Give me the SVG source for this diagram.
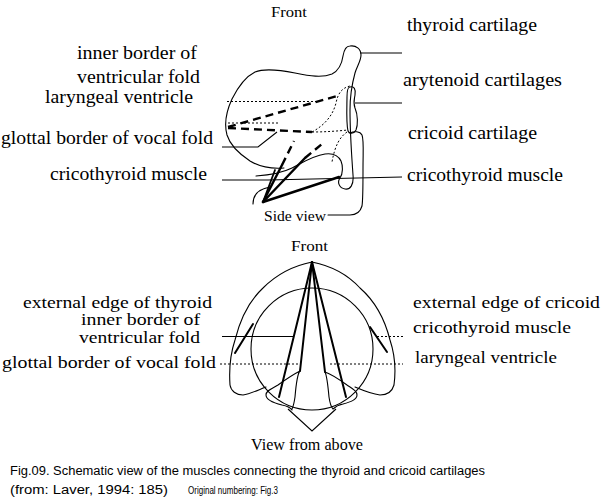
<svg xmlns="http://www.w3.org/2000/svg" width="605" height="500" viewBox="0 0 605 500">
<style>
.bg{fill:#fff}
.o{fill:none;stroke:#000;stroke-width:1.1;stroke-linecap:round;stroke-linejoin:round}
.dot{fill:none;stroke:#000;stroke-width:1;stroke-dasharray:2 2}
.thk{fill:none;stroke:#000;stroke-width:2.4;stroke-linecap:round}
.dsh{fill:none;stroke:#000;stroke-width:2.4;stroke-dasharray:8 5}
.ld{fill:none;stroke:#000;stroke-width:1.1}
.t{font-family:"Liberation Serif","Times New Roman",serif;fill:#000}
.c{font-family:"Liberation Sans",Arial,sans-serif;fill:#000}
</style>
<rect class="bg" x="0" y="0" width="605" height="500"/>

<g id="side-view">
  <path id="thyroid-side" class="o" d="M284,168 C270,169 258,166 250,161 C238,153 230,145 227,135 C224,124 226,112 232,99 C238,87 245,77 255,72 C265,68 280,70 295,73 C310,76 322,78 332,74 C340,70 342,63 343,56 C344,50 346,46 350,46 C356,45 361,49 361,55 C361,61 357,66 355,73 C352,84 350,95 350,110 C350,135 352,160 353,175 C354,185 350,190 345,189 C339,188 337,182 340,178 C343,174 343,166 341,161 C338,155 332,153 325,154 C312,156 302,163 292,168 C282,173 270,175 256,176"/>
  <path id="arytenoid-side" class="o" d="M350,87 C354,86 356,89 355,95 C354,101 353,103 355,108 C358,115 358,125 356,130 C354,134 349,134 348,131 C346,122 347,105 347,97 C347,90 348,87 350,87 Z"/>
  <path id="cricoid-side" class="o" d="M350,133 C354,131 360,131 362,135 C364,140 363,150 363,170 C363,190 363,200 362,206 C360,213 356,215 350,215 L328,215"/>
  <path id="hook" class="o" d="M253,204 C253,195 258,189 270,187"/>
  <g id="side-folds">
    <path class="dot" d="M227,101.5 L320,101.5"/>
    <path class="dot" d="M228,123 L280,123"/>
    <path class="dot" d="M312,132 C325,125 333,115 336,103 C338,93 342,88 350,86"/>
    <path class="dot" d="M312,132 C325,132 338,131 348,130"/>
    <path class="dot" d="M347,132 C340,137 335,145 332,162"/>
    <path class="dsh" d="M228,127 L337,96"/>
    <path class="dsh" d="M228,128 L312,132"/>
    <path class="dsh" d="M282,165 L294,141"/>
    <path class="dsh" d="M305,158 L322,144"/>
  </g>
  <g id="side-muscle">
    <path class="thk" d="M263,202 L282,165"/>
    <path class="thk" style="stroke-width:1.8" d="M263,202 L275,170"/>
    <path class="thk" d="M263,202 L305,158"/>
    <path class="thk" d="M263,202 L339,177"/>
  </g>
</g>

<g id="above-view">
  <path id="thyroid-above" class="o" d="M266,387 C258,390 250,394 243,395 C236,395 231,391 230,385 C229,370 230,355 235,340 C240,320 248,302 263,288 C275,276 292,266 312,262 C332,266 349,276 360,288 C376,302 385,320 390,340 C395,355 396,370 394,385 C392,392 386,395 380,395 C372,394 362,390 355,387"/>
  <circle id="cricoid-above" class="o" cx="312" cy="349" r="61"/>
  <path id="arytenoid-left" class="o" d="M300,371 C294,374 285,380 278,385 C272,389 266,390 266,395 C266,400 274,403 282,405 C287,406 290,407 292,410 M300,371 C297,374 296,385 295,397 C294,404 293,407 292,409"/>
  <path id="arytenoid-right" class="o" d="M325,372 C331,374 340,380 347,385 C353,389 357,391 357,395 C357,400 350,402 343,404 C338,405 335,407 333,409 M325,372 C327,376 328,386 329,397 C330,404 331,407 333,409"/>
  <g id="above-muscle">
    <path class="thk" style="stroke-width:2" d="M312,262 L279,397"/>
    <path class="thk" style="stroke-width:2" d="M312,262 L300,371"/>
    <path class="thk" style="stroke-width:2" d="M312,262 L325,372"/>
    <path class="thk" style="stroke-width:2" d="M312,262 L346,397"/>
    <path class="thk" style="stroke-width:2" d="M235,353 L253,324"/>
    <path class="thk" style="stroke-width:2" d="M387,352 L370,327"/>
  </g>
</g>

<g id="connectors">
  <path class="ld" d="M360,53 L402,53"/>
  <path class="ld" d="M355,103 L402,103"/>
  <path class="ld" d="M222,147 L258,147 L277,132"/>
  <path class="ld" d="M222,180 L268,180 L402,177"/>
  <path class="ld" d="M222,336.5 L293,336.5"/>
  <path class="dot" d="M377,336.5 L403,336.5"/>
  <path class="dot" d="M220,364 L300,364"/>
  <path class="dot" d="M330,364 L403,364"/>
  <path class="ld" d="M288,409 L312,431 L336,409"/>
</g>

<g id="labels">
  <text class="t" x="271" y="17" font-size="15" textLength="36" lengthAdjust="spacingAndGlyphs">Front</text>
  <text class="t" x="407" y="31" font-size="19" textLength="130" lengthAdjust="spacingAndGlyphs">thyroid cartilage</text>
  <text class="t" x="403" y="86" font-size="19" textLength="159" lengthAdjust="spacingAndGlyphs">arytenoid cartilages</text>
  <text class="t" x="408" y="139" font-size="19" textLength="129" lengthAdjust="spacingAndGlyphs">cricoid cartilage</text>
  <text class="t" x="407" y="181" font-size="19" textLength="156" lengthAdjust="spacingAndGlyphs">cricothyroid muscle</text>
  <text class="t" x="77" y="59" font-size="19" textLength="120" lengthAdjust="spacingAndGlyphs">inner border of</text>
  <text class="t" x="77" y="83" font-size="19" textLength="123" lengthAdjust="spacingAndGlyphs">ventricular fold</text>
  <text class="t" x="45" y="103" font-size="19" textLength="148" lengthAdjust="spacingAndGlyphs">laryngeal ventricle</text>
  <text class="t" x="1" y="144" font-size="19" textLength="212" lengthAdjust="spacingAndGlyphs">glottal border of vocal fold</text>
  <text class="t" x="50" y="180" font-size="19" textLength="157" lengthAdjust="spacingAndGlyphs">cricothyroid muscle</text>
  <text class="t" x="264" y="221" font-size="15" textLength="62" lengthAdjust="spacingAndGlyphs">Side view</text>

  <text class="t" x="291" y="251" font-size="15" textLength="37" lengthAdjust="spacingAndGlyphs">Front</text>
  <text class="t" x="23" y="308" font-size="17" textLength="189" lengthAdjust="spacingAndGlyphs">external edge of thyroid</text>
  <text class="t" x="81" y="325" font-size="16" textLength="119" lengthAdjust="spacingAndGlyphs">inner border of</text>
  <text class="t" x="79" y="343" font-size="16" textLength="121" lengthAdjust="spacingAndGlyphs">ventricular fold</text>
  <text class="t" x="2" y="368" font-size="17" textLength="214" lengthAdjust="spacingAndGlyphs">glottal border of vocal fold</text>
  <text class="t" x="413" y="308" font-size="17" textLength="187" lengthAdjust="spacingAndGlyphs">external edge of cricoid</text>
  <text class="t" x="413" y="333" font-size="17" textLength="158" lengthAdjust="spacingAndGlyphs">cricothyroid muscle</text>
  <text class="t" x="415" y="363" font-size="17" textLength="142" lengthAdjust="spacingAndGlyphs">laryngeal ventricle</text>
  <text class="t" x="251" y="450" font-size="16" textLength="112" lengthAdjust="spacingAndGlyphs">View from above</text>

  <text class="c" x="10" y="475" font-size="12.5" textLength="475" lengthAdjust="spacingAndGlyphs">Fig.09. Schematic view of the muscles connecting the thyroid and cricoid cartilages</text>
  <text class="c" x="10" y="494" font-size="12.5" textLength="158" lengthAdjust="spacingAndGlyphs">(from: Laver, 1994: 185)</text>
  <text class="c" x="188" y="494" font-size="10" textLength="90" lengthAdjust="spacingAndGlyphs">Original numbering: Fig.3</text>
</g>
</svg>
